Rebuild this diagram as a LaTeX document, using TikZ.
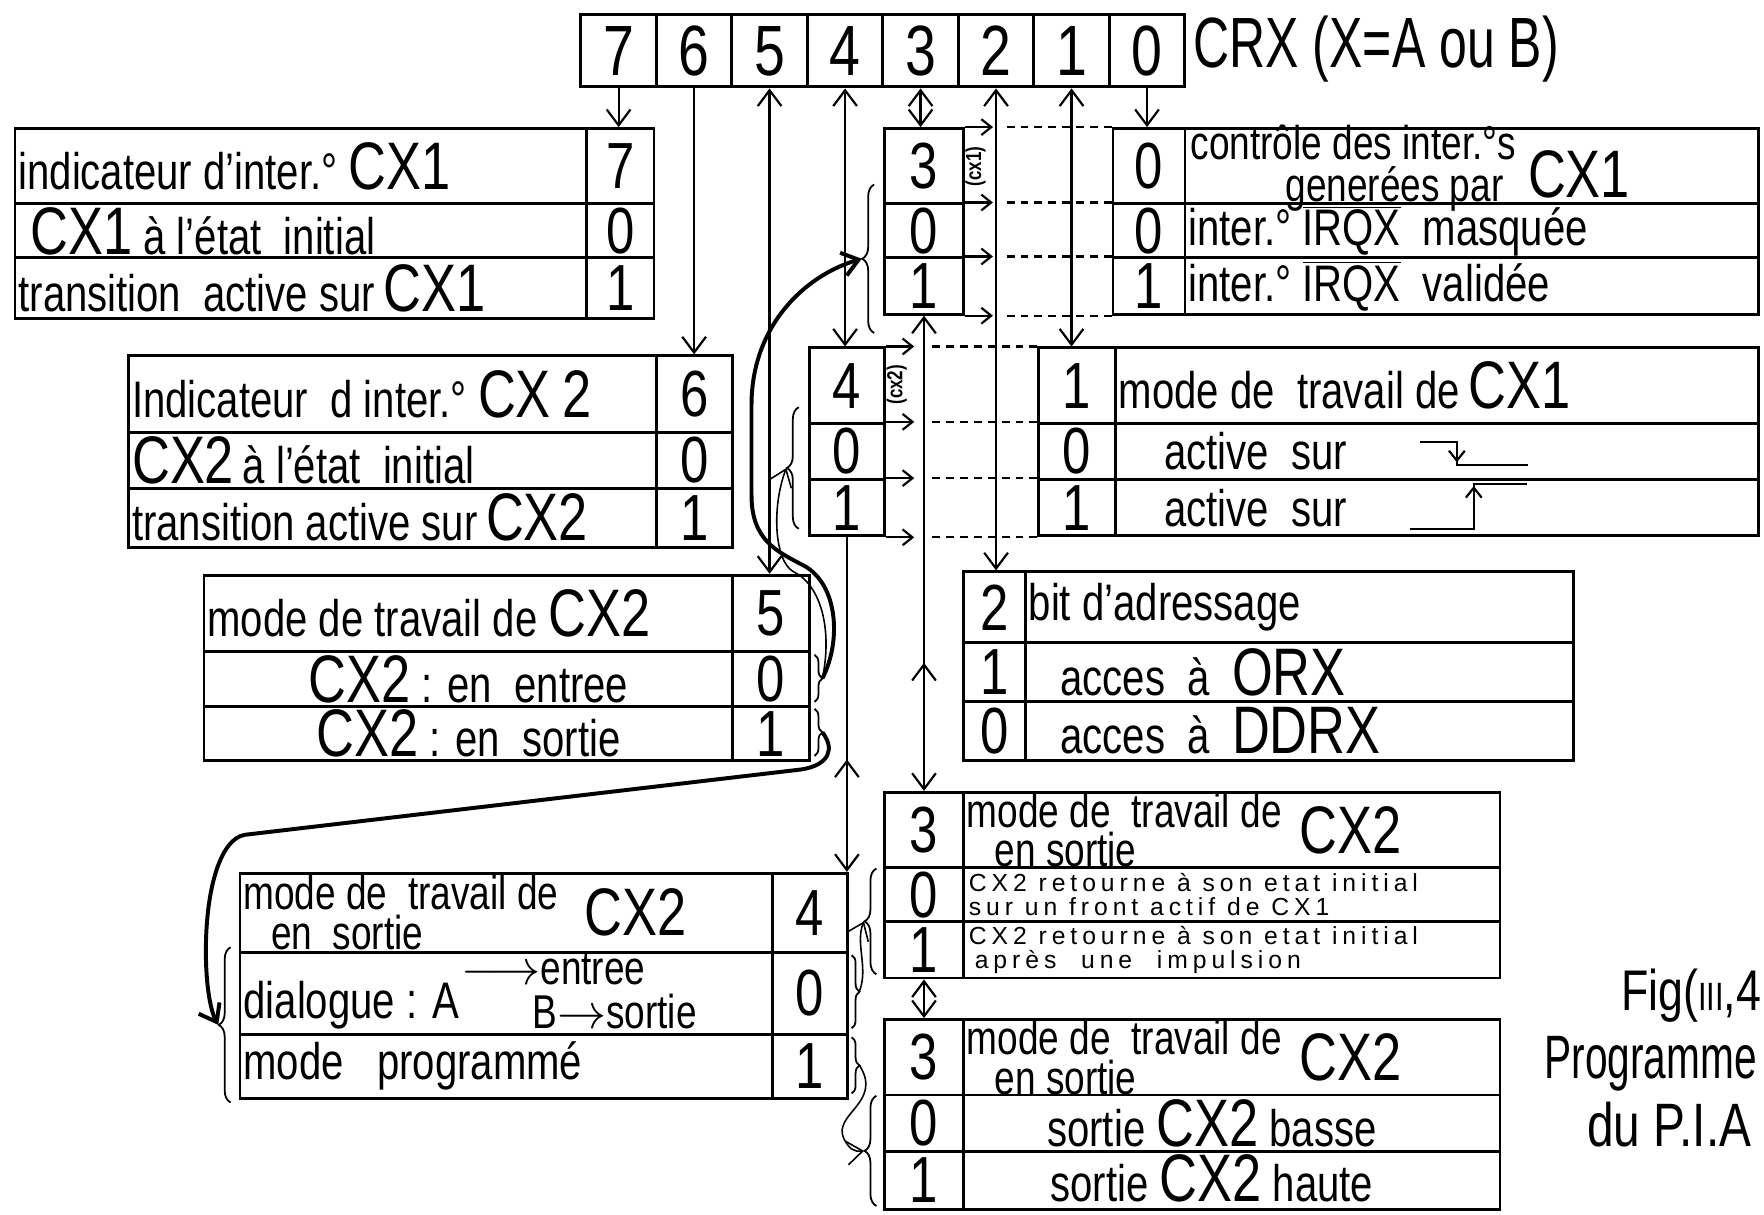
\documentclass[tikz,border=0pt]{standalone}
\usepackage{fontspec}
\setmainfont{Liberation Sans}[FakeStretch=0.78]
\newfontfamily\handsmall{Liberation Sans}[LetterSpace=20]
\usetikzlibrary{arrows.meta, positioning, decorations.pathreplacing, decorations.markings}

\newcommand{\cxbig}[1]{{\fontsize{34}{34}\selectfont #1}}
\newcommand{\irqx}{$\overline{\mbox{IRQX}}$}
\setlength{\lineskiplimit}{-40pt}

\begin{document}
\begin{tikzpicture}[x=0.2mm, y=-0.2mm, line width=1.1pt,
  >={Straight Barb[length=8pt, width=12pt]},
  box/.style 2 args={draw, line width=1.5pt, anchor=north west, inner sep=0pt,
    minimum width=#1*0.2mm, minimum height=#2*0.2mm},
  num/.style={font=\fontsize{33}{33}\selectfont},
  txt/.style={inner sep=0pt, font=\fontsize{26}{26}\selectfont},
  twoline/.style={inner sep=0pt, align=left, font=\fontsize{24}{#1}\selectfont},
  smalltxt/.style={inner sep=0pt, align=left, font=\handsmall\fontsize{12.5}{12}\selectfont},
  curly/.style={decorate, decoration={brace, amplitude=#1}, line width=0.9pt},
  shortarr/.style={-{Straight Barb[length=5pt, width=8pt]}},
  dots/.style={dash pattern=on 4pt off 3pt},
  hand/.style={line width=2pt},
  fine/.style={line width=0.8pt},
  midback/.style={postaction={decorate},
    decoration={markings, mark=at position #1 with {\arrow{<}}}}]
  \useasboundingbox (0,0) rectangle (1568,1080);

  % control register CRX
  \foreach \b [count=\i from 0] in {7,6,5,4,3,2,1,0}
    \node[box={67.1}{64}, font=\fontsize{36}{36}\selectfont] (bit\b) at ({515+67.1*\i},12) {\b};
  \node[txt, anchor=west, font=\fontsize{36}{36}\selectfont] (crx) at (1060,44) {\scalebox{0.9}[1]{CRX (X=A ou B)}};

  % bit 7 : flag CX1
  \node[box={508}{67}] (t1a) at (12,113) {};
  \node[box={60}{67}, num] (t1av) at (520,113) {7};
  \node[box={508}{48}] (t1b) at (12,180) {};
  \node[box={60}{48}, num] (t1bv) at (520,180) {0};
  \node[box={508}{54}] (t1c) at (12,228) {};
  \node[box={60}{54}, num] (t1cv) at (520,228) {1};
  \node[txt, right=2pt of t1a.west] (t1at) {indicateur d'inter.° \cxbig{CX1}};
  \node[txt, right=8pt of t1b.west] (t1bt) {\cxbig{CX1} à l'état\ \ initial};
  \node[txt, right=2pt of t1c.west] (t1ct) {transition\ \ active sur\,\cxbig{CX1}};

  % bit 6 : flag CX2
  \node[box={469}{68}] (t2a) at (113,315) {};
  \node[box={68}{68}, num] (t2av) at (582,315) {6};
  \node[box={469}{50}] (t2b) at (113,383) {};
  \node[box={68}{50}, num] (t2bv) at (582,383) {0};
  \node[box={469}{52}] (t2c) at (113,433) {};
  \node[box={68}{52}, num] (t2cv) at (582,433) {1};
  \node[txt, right=2pt of t2a.west] (t2at) {Indicateur\ \ d inter.° \cxbig{CX\,2}};
  \node[txt, right=2pt of t2b.west] (t2bt) {\cxbig{CX2}\,à l'état\ \ initial};
  \node[txt, right=2pt of t2c.west] (t2ct) {transition active sur\,\cxbig{CX2}};

  % bit 5 : direction of CX2
  \node[box={470}{68}] (t3a) at (180,510) {};
  \node[box={68}{68}, num] (t3av) at (650,510) {5};
  \node[box={470}{49}] (t3b) at (180,578) {};
  \node[box={68}{49}, num] (t3bv) at (650,578) {0};
  \node[box={470}{48}] (t3c) at (180,627) {};
  \node[box={68}{48}, num] (t3cv) at (650,627) {1};
  \node[txt, right=2pt of t3a.west] (t3at) {mode de travail de \cxbig{CX2}};
  \node[txt] (t3bt) at (t3b.center) {\cxbig{CX2} : en\ \ entree};
  \node[txt] (t3ct) at (t3c.center) {\cxbig{CX2} : en\ \ sortie};

  % bit 4 : CX2 output mode
  \node[box={473}{70}] (t4a) at (212,775) {};
  \node[box={67}{70}, num] (t4av) at (685,775) {4};
  \node[box={473}{73}] (t4b) at (212,845) {};
  \node[box={67}{73}, num] (t4bv) at (685,845) {0};
  \node[box={473}{57}] (t4c) at (212,918) {};
  \node[box={67}{57}, num] (t4cv) at (685,918) {1};
  \node[twoline=20pt, right=2pt of t4a.west] (t4at) {mode de\ \ travail de\\\hspace*{14pt}en\ \ sortie};
  \node[txt, right=12pt of t4at] (t4ax) {\cxbig{CX2}};
  \node[txt, right=2pt of t4b.west, yshift=-6pt] (t4bt) {dialogue : A};
  \node[twoline=22pt, right=0pt of t4bt, yshift=7pt] (t4bs) {$\longrightarrow$entree\\\hspace*{36pt}B$\rightarrow$sortie};
  \node[txt, right=2pt of t4c.west] (t4ct) {mode\ \ \ programmé};

  % bit 0 : interrupt of CX1
  \node[box={64}{67}, num] (q1av) at (988,113) {0};
  \node[box={510}{67}] (q1a) at (1052,113) {};
  \node[box={64}{48}, num] (q1bv) at (988,180) {0};
  \node[box={510}{48}] (q1b) at (1052,180) {};
  \node[box={64}{50}, num] (q1cv) at (988,228) {1};
  \node[box={510}{50}] (q1c) at (1052,228) {};
  \node[twoline=21pt, right=3pt of q1a.west, yshift=-1pt] (q1at) {contrôle des inter.°s\\\hspace*{48pt}generées par};
  \node[txt, right=5pt of q1at, yshift=-3pt] (q1ax) {\cxbig{CX1}};
  \node[txt, right=2pt of q1b.west] (q1bt) {inter.° \irqx\ \ masquée};
  \node[txt, right=2pt of q1c.west] (q1ct) {inter.° \irqx\ \ validée};

  % bit 1 : active edge of CX1
  \node[box={68}{67}, num] (q2av) at (922,308) {1};
  \node[box={572}{67}] (q2a) at (990,308) {};
  \node[box={68}{50}, num] (q2bv) at (922,375) {0};
  \node[box={572}{50}] (q2b) at (990,375) {};
  \node[box={68}{50}, num] (q2cv) at (922,425) {1};
  \node[box={572}{50}] (q2c) at (990,425) {};
  \node[txt, right=2pt of q2a.west] (q2at) {mode de\ \ travail de\,\cxbig{CX1}};
  \node[txt, right=25pt of q2b.west] (q2bt) {active\ \ sur};
  \node[txt, right=25pt of q2c.west] (q2ct) {active\ \ sur};
  \draw (1262,393) -- (1295,393) -- (1295,413) -- (1358,413);
  \draw[shortarr] (1295,393) -- (1295,411);
  \draw (1253,470) -- (1310,470) -- (1310,430) -- (1357,430);
  \draw[shortarr] (1310,470) -- (1310,432);

  % bit 2 : register access
  \node[box={55}{63}, num] (q3av) at (855,507) {2};
  \node[box={487}{63}] (q3a) at (910,507) {};
  \node[box={55}{52}, num] (q3bv) at (855,570) {1};
  \node[box={487}{52}] (q3b) at (910,570) {};
  \node[box={55}{53}, num] (q3cv) at (855,622) {0};
  \node[box={487}{53}] (q3c) at (910,622) {};
  \node[txt, right=2pt of q3a.west] (q3at) {bit d'adressage};
  \node[txt, right=18pt of q3b.west] (q3bt) {acces\ \ à\ \ \cxbig{ORX}};
  \node[txt, right=18pt of q3c.west] (q3ct) {acces\ \ à\ \ \cxbig{DDRX}};

  % bit 3 : CX2 output, handshake
  \node[box={70}{67}, num] (q4av) at (785,703) {3};
  \node[box={477}{67}] (q4a) at (855,703) {};
  \node[box={70}{48}, num] (q4bv) at (785,770) {0};
  \node[box={477}{48}] (q4b) at (855,770) {};
  \node[box={70}{50}, num] (q4cv) at (785,818) {1};
  \node[box={477}{50}] (q4c) at (855,818) {};
  \node[twoline=20pt, right=2pt of q4a.west] (q4at) {mode de\ \ travail de\\\hspace*{14pt}en sortie};
  \node[txt, right=8pt of q4at] (q4ax) {\cxbig{CX2}};
  \node[smalltxt, right=3pt of q4b.west] (q4bt) {CX2 retourne à son etat initial\\sur un front actif de CX1};
  \node[smalltxt, right=3pt of q4c.west] (q4ct) {CX2 retourne à son etat initial\\\hspace*{3pt}après\quad une\quad impulsion};

  % bit 3 : CX2 output, programmed
  \node[box={70}{67}, num] (q5av) at (785,905) {3};
  \node[box={477}{67}] (q5a) at (855,905) {};
  \node[box={70}{50}, num] (q5bv) at (785,972) {0};
  \node[box={477}{50}] (q5b) at (855,972) {};
  \node[box={70}{52}, num] (q5cv) at (785,1022) {1};
  \node[box={477}{52}] (q5c) at (855,1022) {};
  \node[twoline=20pt, right=2pt of q5a.west] (q5at) {mode de\ \ travail de\\\hspace*{14pt}en sortie};
  \node[txt, right=8pt of q5at] (q5ax) {\cxbig{CX2}};
  \node[txt, xshift=-10pt] (q5bt) at (q5b.center) {sortie \cxbig{CX2} basse};
  \node[txt, xshift=-10pt, yshift=1pt] (q5ct) at (q5c.center) {sortie \cxbig{CX2} haute};

  % bits 3 and 4 as interrupt control of CX2
  \node[box={70}{67}, num] (b3a) at (785,113) {3};
  \node[box={70}{48}, num] (b3b) at (785,180) {0};
  \node[box={70}{50}, num] (b3c) at (785,228) {1};
  \node[box={67}{67}, num] (b4a) at (718,308) {4};
  \node[box={67}{50}, num] (b4b) at (718,375) {0};
  \node[box={67}{50}, num] (b4c) at (718,425) {1};
  \node[rotate=90, inner sep=0pt, font=\bfseries\fontsize{11}{11}\selectfont] (b3lab) at (867,148) {(cx1)};
  \node[rotate=90, inner sep=0pt, font=\bfseries\fontsize{11}{11}\selectfont] (b4lab) at (797,342) {(cx2)};
  \foreach \n in {b3a,b3b,b3c,b4a,b4b,b4c} \draw[shortarr] (\n.north east) -- +(25,0);
  \draw[shortarr] (b3c.south east) -- +(25,0);
  \draw[shortarr] (b4c.south east) -- +(25,0);
  \foreach \n in {q1av,q1bv,q1cv} \draw[dots] (\n.north west) -- +(-95,0);
  \draw[dots] (q1cv.south west) -- +(-95,0);
  \foreach \n in {q2av,q2bv,q2cv} \draw[dots] (\n.north west) -- +(-94,0);
  \draw[dots] (q2cv.south west) -- +(-94,0);

  % links from the register
  \draw[->] (bit7.south) -- (bit7.south |- t1av.north);
  \draw[->] (bit6.south) -- (bit6.south |- t2av.north);
  \draw[<->] (bit5.south) -- (bit5.south |- t3av.north);
  \draw[<->] (bit4.south) -- (bit4.south |- b4a.north);
  \draw[<->] (bit3.south) -- (bit3.south |- b3a.north);
  \draw[<->] (bit2.south) -- (bit2.south |- q3av.north);
  \draw[<->] (bit1.south) -- (bit1.south |- q2av.north);
  \draw[->] (bit0.south) -- (bit0.south |- q1av.north);
  \draw[<->, midback=0.77] (b3c.south) -- (b3c.south |- q4av.north);
  \draw[<->] (q4cv.south) -- (q5av.north);
  \draw[->, midback=0.72] (b4c.south) -- (b4c.south |- t4av.north);

  % braces
  \draw[curly=6pt] (777,296) -- (777,164);
  \coordinate (b3br) at (766,230);
  \draw[curly=6pt] (710,470) -- (710,362);
  \coordinate (b4br) at (699,416);
  \draw[curly=4pt] (724,582) -- (724,624);
  \coordinate (t3bbr) at (731,603);
  \draw[curly=4pt] (724,630) -- (724,672);
  \coordinate (t3cbr) at (731,651);
  \draw[curly=6pt] (205,980) -- (205,842);
  \coordinate (t4lbr) at (194,911);
  \draw[curly=4pt] (757,849) -- (757,914);
  \coordinate (t4bbr) at (764,881);
  \draw[curly=4pt] (757,922) -- (757,972);
  \coordinate (t4cbr) at (764,947);
  \draw[curly=6pt] (779,866) -- (779,772);
  \coordinate (q4br) at (768,819);
  \draw[curly=6pt] (779,1072) -- (779,974);
  \coordinate (q5br) at (768,1023);

  % hand drawn links
  \draw[hand, ->] (t3bbr) .. controls (748,570) and (745,520) .. (715,503)
    .. controls (690,490) and (668,480) .. (668,440) -- (668,360)
    .. controls (668,290) and (715,245) .. (b3br);
  \draw[fine, ->] (t3bbr) .. controls (740,560) and (730,520) .. (705,508)
    .. controls (688,498) and (686,450) .. (b4br);
  \draw[hand, ->] (t3cbr) .. controls (742,665) and (738,680) .. (712,684) -- (218,742)
    .. controls (196,745) and (183,790) .. (183,845) .. controls (183,880) and (188,900) .. (t4lbr);
  \draw[fine, ->] (t4bbr) .. controls (772,860) and (760,838) .. (q4br);
  \draw[fine, ->] (t4cbr) .. controls (785,980) and (740,990) .. (750,1012)
    .. controls (755,1022) and (760,1024) .. (q5br);

  % caption
  \node[txt, anchor=west, font=\fontsize{29}{29}\selectfont] (fig) at (1440,885) {Fig({\fontsize{20}{20}\selectfont III},4};
  \node[txt, anchor=west, font=\fontsize{31}{31}\selectfont] (prog) at (1372,946) {\scalebox{0.85}[1]{Programme}};
  \node[txt, anchor=west, font=\fontsize{31}{31}\selectfont] (pia) at (1410,1000) {du P.I.A};
\end{tikzpicture}
\end{document}
